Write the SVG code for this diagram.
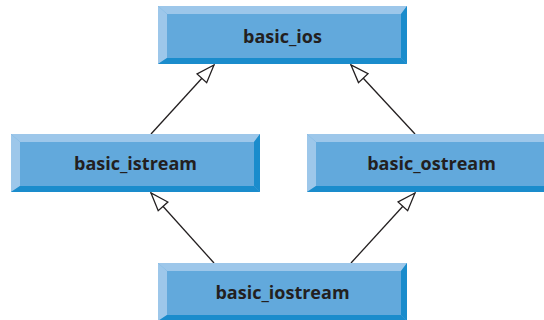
<svg xmlns="http://www.w3.org/2000/svg" xmlns:xlink="http://www.w3.org/1999/xlink" width="544" height="320" viewBox="0 0 544 320">
  <style>
    .lbl { font-family: "Open Sans", "Noto Sans", "Liberation Sans", sans-serif; font-weight: bold; font-size: 18px; fill: #231f20; text-anchor: middle; }
    .conn { stroke: #231f20; stroke-width: 1.3; fill: none; }
  </style>
  <defs>
    <g id="box">
      <rect x="0" y="0" width="249" height="58" fill="#62a9dc"/>
      <polygon points="0,0 249,0 243,8 9,8" fill="#9dc7ea"/>
      <polygon points="0,0 9,8 9,52 0,58" fill="#9dc7ea"/>
      <polygon points="249,0 249,58 243,52 243,8" fill="#1a8ccc"/>
      <polygon points="0,58 249,58 243,52 9,52" fill="#1a8ccc"/>
    </g>
    <marker id="tri" viewBox="-20 -8 22 16" refX="0" refY="0" markerWidth="22" markerHeight="16" markerUnits="userSpaceOnUse" orient="auto">
      <path d="M0,0 L-18,-6.5 L-18,6.5 Z" fill="#ffffff" stroke="#231f20" stroke-width="1.3" stroke-linejoin="miter"/>
    </marker>
  </defs>
  <rect width="544" height="320" fill="#ffffff"/>
  <g id="connectors">
    <line class="conn" x1="151" y1="134" x2="214" y2="65" marker-end="url(#tri)"/>
    <line class="conn" x1="415" y1="134" x2="351" y2="65" marker-end="url(#tri)"/>
    <line class="conn" x1="214" y1="263" x2="151" y2="193" marker-end="url(#tri)"/>
    <line class="conn" x1="351" y1="263" x2="415" y2="193" marker-end="url(#tri)"/>
  </g>
  <g id="basic_ios">
    <use xlink:href="#box" href="#box" x="158" y="6"/>
    <text class="lbl" x="282.5" y="43">basic_ios</text>
  </g>
  <g id="basic_istream">
    <use xlink:href="#box" href="#box" x="11" y="134"/>
    <text class="lbl" x="135.5" y="170">basic_istream</text>
  </g>
  <g id="basic_ostream">
    <use xlink:href="#box" href="#box" x="307" y="134"/>
    <text class="lbl" x="431.5" y="170">basic_ostream</text>
  </g>
  <g id="basic_iostream">
    <use xlink:href="#box" href="#box" x="158" y="263"/>
    <text class="lbl" x="282.5" y="299">basic_iostream</text>
  </g>
</svg>
